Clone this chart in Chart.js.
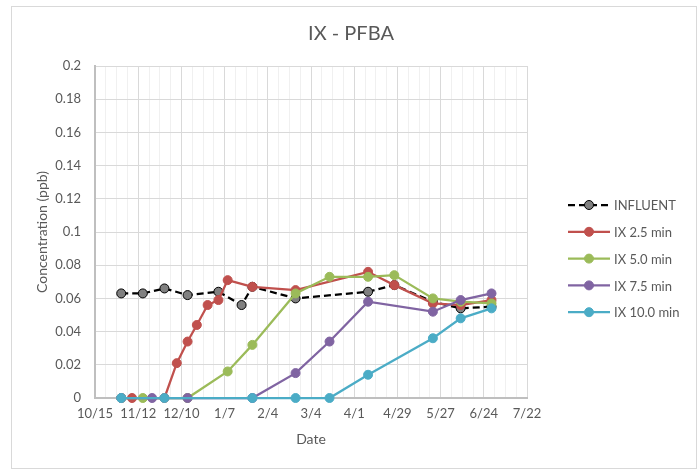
<!DOCTYPE html>
<html>
<head>
<meta charset="utf-8">
<title>IX - PFBA</title>
<script src="https://cdn.jsdelivr.net/npm/chart.js@4/dist/chart.umd.min.js"></script>
<style>
  body { margin: 0; background: #fff; }
  canvas { display: block; }
</style>
</head>
<body>
<canvas id="canvas" width="700" height="470"></canvas>
<script>
// sample dates (shared by all series, null = not sampled that day)
const sampleDates = ['2018-11-01', '2018-11-08', '2018-11-15', '2018-11-21', '2018-11-29',
    '2018-12-07', '2018-12-14', '2018-12-20', '2018-12-27', '2019-01-03', '2019-01-09',
    '2019-01-18', '2019-01-25', '2019-02-22', '2019-03-16', '2019-04-10', '2019-04-27',
    '2019-05-22', '2019-06-09', '2019-06-29'];

const influent = [0.063, null, 0.063, null, 0.066, null, 0.062, null, null, 0.064, null,
    0.056, 0.067, 0.060, null, 0.064, 0.068, 0.058, 0.054, 0.055];
const ix25 = [0, 0, null, null, 0, 0.021, 0.034, 0.044, 0.056, 0.059, 0.071,
    null, 0.067, 0.065, null, 0.076, 0.068, 0.057, 0.056, 0.059];
const ix50 = [0, null, 0, null, null, null, 0, null, null, null, 0.016,
    null, 0.032, 0.063, 0.073, 0.073, 0.074, 0.060, 0.058, 0.057];
const ix75 = [0, null, null, 0, null, null, 0, null, null, null, null,
    null, 0, 0.015, 0.034, 0.058, null, 0.052, 0.059, 0.063];
const ix100 = [0, null, null, null, 0, null, null, null, null, null, null,
    null, 0, 0, 0, 0.014, null, 0.036, 0.048, 0.054];

const seriesNames = ['INFLUENT', 'IX 2.5 min', 'IX 5.0 min', 'IX 7.5 min', 'IX 10.0 min'];
const yTicks = [0, 0.02, 0.04, 0.06, 0.08, 0.1, 0.12, 0.14, 0.16, 0.18, 0.2];

// x axis runs 10/15 .. 7/22 in days
const startDate = Date.UTC(2018, 9, 15);
const endDate = Date.UTC(2019, 6, 22);
const DAY = 86400000;
const dayOf = (s) => (Date.parse(s) - startDate) / DAY;

const toPoints = (values) => {
    let pts = [];
    values.forEach((v, i) => {
        if (v !== null) pts.push({x: dayOf(sampleDates[i]), y: v});
    });
    return pts;
};

const FONT = 'Lato, "Open Sans", sans-serif';
const GREY = '#595959';
const chartTitle = 'IX - PFBA';

// frame, centred title and an Excel-like legend (short line with a marker)
const sideLegend = {
    id: 'sideLegend',
    afterDraw(chart) {
        const ctx = chart.ctx;
        ctx.save();
        ctx.strokeStyle = '#d9d9d9';
        ctx.lineWidth = 1;
        ctx.strokeRect(11.5, 6.5, 685, 462);

        ctx.fillStyle = GREY;
        ctx.font = '20px ' + FONT;
        ctx.textAlign = 'center';
        ctx.textBaseline = 'middle';
        ctx.fillText(chartTitle, 351, 34);

        ctx.textAlign = 'left';
        chart.data.datasets.forEach((ds, i) => {
            const y = 205 + i * 26.8;
            ctx.strokeStyle = ds.borderColor;
            ctx.lineWidth = ds.borderWidth;
            ctx.setLineDash(ds.borderDash || []);
            ctx.beginPath();
            ctx.moveTo(568, y);
            ctx.lineTo(610, y);
            ctx.stroke();
            ctx.setLineDash([]);
            ctx.beginPath();
            ctx.arc(589, y, 4.5, 0, Math.PI * 2);
            ctx.fillStyle = ds.pointBackgroundColor;
            ctx.fill();
            ctx.lineWidth = 1;
            ctx.strokeStyle = ds.pointBorderColor;
            ctx.stroke();
            ctx.fillStyle = GREY;
            ctx.font = '13px ' + FONT;
            ctx.textBaseline = 'middle';
            ctx.fillText(ds.label, 614, y + 1);
        });
        ctx.restore();
    }
};

const colors = ['#000000', '#c0504d', '#9bbb59', '#8064a2', '#4bacc6'];
const values = [influent, ix25, ix50, ix75, ix100];

const datasets = values.map((vals, i) => ({
    label: seriesNames[i],
    data: toPoints(vals),
    borderColor: colors[i],
    borderWidth: 2.25,
    borderDash: i === 0 ? [7, 4] : [],
    pointRadius: 4.5,
    pointBorderWidth: 1,
    pointBackgroundColor: i === 0 ? '#808080' : colors[i],
    pointBorderColor: colors[i],
    showLine: true,
    spanGaps: true,
    fill: false,
    clip: false,
    order: 5 - i
}));

const myChart = new Chart(
    document.getElementById('canvas'),
    {
        type: 'scatter',
        data: {datasets: datasets},
        options: {
            responsive: false,
            animation: false,
            devicePixelRatio: 1,
            layout: {padding: {left: 0, top: 66, right: 173, bottom: 0}},
            plugins: {
                legend: {display: false},
                tooltip: {enabled: false},
                title: {display: false}
            },
            scales: {
                x: {
                    type: 'linear',
                    min: 0,
                    max: (endDate - startDate) / DAY,
                    afterFit: (scale) => { scale.height = 72; },
                    ticks: {
                        stepSize: 7,
                        autoSkip: false,
                        maxRotation: 0,
                        padding: 8,
                        color: GREY,
                        font: {family: FONT, size: 13},
                        callback: (v) => {
                            if (v % 28 !== 0) return '';
                            const d = new Date(startDate + v * DAY);
                            return (d.getUTCMonth() + 1) + '/' + d.getUTCDate();
                        }
                    },
                    grid: {
                        drawTicks: false,
                        color: (c) => (c.tick && c.tick.value % 28 === 0) ? '#d9d9d9' : '#f0f0f0'
                    },
                    border: {color: '#bfbfbf', width: 2},
                    title: {
                        display: true,
                        text: 'Date',
                        color: GREY,
                        font: {family: FONT, size: 14},
                        padding: {bottom: 22}
                    }
                },
                y: {
                    min: 0,
                    max: 0.2,
                    afterFit: (scale) => { scale.width = 95; },
                    afterBuildTicks: (scale) => { scale.ticks = yTicks.map(v => ({value: v})); },
                    ticks: {
                        padding: 14,
                        color: GREY,
                        font: {family: FONT, size: 13},
                        callback: (v) => Number(v.toFixed(2)).toString()
                    },
                    grid: {drawTicks: false, color: '#d9d9d9'},
                    border: {color: '#bfbfbf', width: 2},
                    title: {
                        display: true,
                        text: 'Concentration (ppb)',
                        color: GREY,
                        font: {family: FONT, size: 14},
                        padding: {top: 34}
                    }
                }
            }
        },
        plugins: [sideLegend]
    }
);
</script>
</body>
</html>
